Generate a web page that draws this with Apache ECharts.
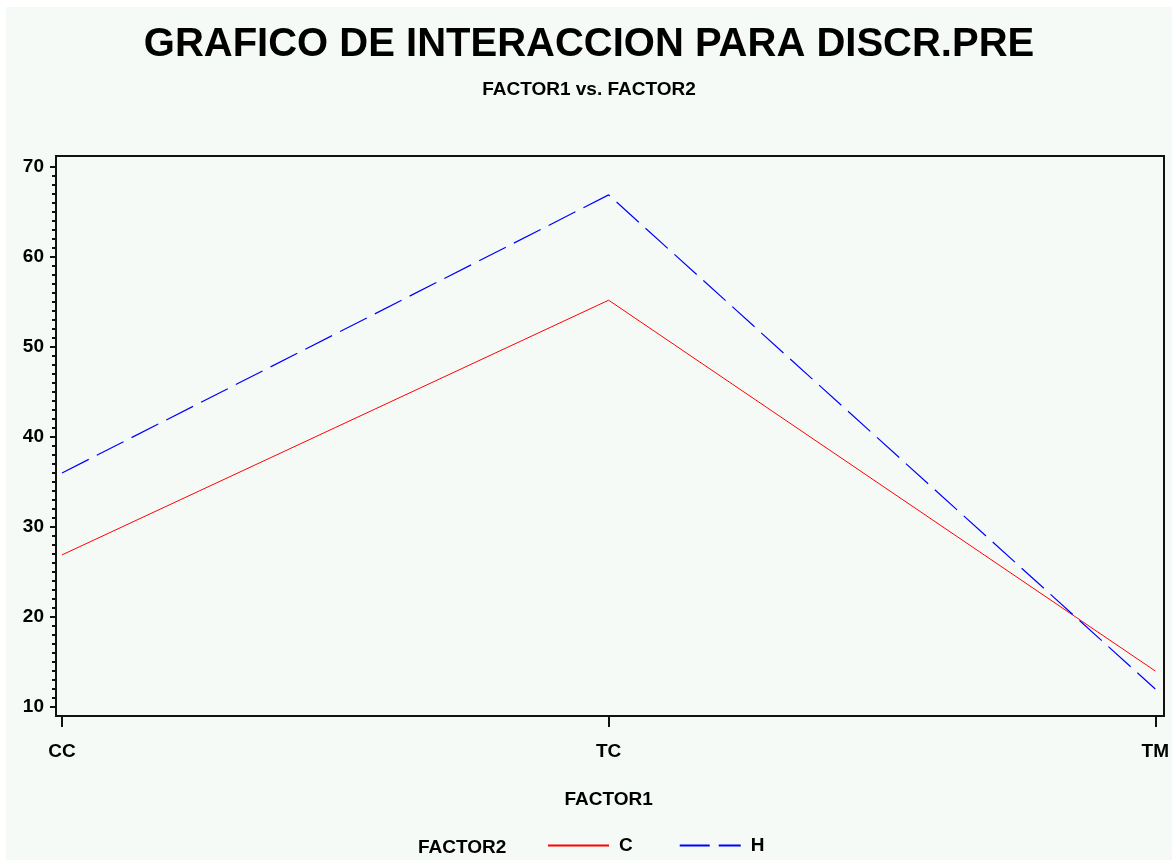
<!DOCTYPE html>
<html>
<head>
<meta charset="utf-8">
<script src="https://cdn.jsdelivr.net/npm/echarts@6/dist/echarts.min.js"></script>
<style>
  html, body { margin: 0; padding: 0; background: #ffffff; }
  #main {
    position: absolute;
    left: 6px;
    top: 7px;
    width: 1166px;
    height: 853px;
    background: #f5faf7;
  }
</style>
</head>
<body>
<div id="main"></div>
<script>
  // factor levels and cell means
  const factor1 = ['CC', 'TC', 'TM'];
  const seriesC = [26.9, 55.2, 14.0];
  const seriesH = [36.0, 66.9, 12.0];
  const yTicks = { min: 10, max: 70, step: 10 };

  const font = 'Liberation Sans, Arial, sans-serif';
  const chart = echarts.init(document.getElementById('main'));

  const option = {
    animation: false,
    title: [
      {
        text: 'GRAFICO DE INTERACCION PARA DISCR.PRE',
        left: 'center',
        top: 13,
        textStyle: { fontFamily: font, fontSize: 40, fontWeight: 'bold', color: '#000' }
      },
      {
        text: 'FACTOR1 vs. FACTOR2',
        left: 'center',
        top: 68,
        textStyle: { fontFamily: font, fontSize: 19, fontWeight: 'bold', color: '#000' }
      },
      {
        text: 'FACTOR2',
        left: 407,
        top: 826,
        textStyle: { fontFamily: font, fontSize: 19, fontWeight: 'bold', color: '#000' }
      }
    ],
    legend: {
      left: 536,
      top: 824,
      itemWidth: 61,
      itemHeight: 16,
      itemGap: 46,
      itemStyle: { opacity: 0 },
      textStyle: { fontFamily: font, fontSize: 19, fontWeight: 'bold', color: '#000', padding: [0, 0, 0, 5] },
      data: ['C', 'H']
    },
    grid: [
      // plotting area (positions of 10..70 and of the categories)
      { left: 56, right: 13, top: 160, bottom: 153 },
      // frame around the plot
      { left: 50, right: 8, top: 149, bottom: 144, show: true, borderColor: '#111', borderWidth: 2, backgroundColor: 'transparent' }
    ],
    xAxis: [
      {
        type: 'category',
        gridIndex: 0,
        data: factor1,
        boundaryGap: false,
        offset: 10,
        name: 'FACTOR1',
        nameLocation: 'middle',
        nameGap: 73,
        nameTextStyle: { fontFamily: font, fontSize: 19, fontWeight: 'bold', color: '#000' },
        axisLine: { show: false },
        axisTick: { show: true, length: 10, lineStyle: { color: '#111', width: 2 } },
        axisLabel: { fontFamily: font, fontSize: 19, fontWeight: 'bold', color: '#000', margin: 25 },
        splitLine: { show: false }
      },
      { type: 'value', gridIndex: 1, show: false }
    ],
    yAxis: [
      {
        type: 'value',
        gridIndex: 0,
        min: yTicks.min,
        max: yTicks.max,
        interval: yTicks.step,
        offset: 6,
        axisLine: { show: false },
        axisTick: { show: true, length: 6, lineStyle: { color: '#111', width: 2 } },
        minorTick: { show: true, splitNumber: 10, length: 4, lineStyle: { color: '#111', width: 2 } },
        axisLabel: { fontFamily: font, fontSize: 19, fontWeight: 'bold', color: '#000', margin: 12 },
        splitLine: { show: false }
      },
      { type: 'value', gridIndex: 1, show: false }
    ],
    series: [
      {
        name: 'C',
        type: 'line',
        xAxisIndex: 0,
        yAxisIndex: 0,
        data: seriesC,
        symbol: 'none',
        lineStyle: { color: '#ff0000', width: 1 },
        itemStyle: { color: '#ff0000' }
      },
      {
        name: 'H',
        type: 'line',
        xAxisIndex: 0,
        yAxisIndex: 0,
        data: seriesH,
        symbol: 'none',
        lineStyle: { color: '#0000ff', width: 1.2, type: [30, 9] },
        itemStyle: { color: '#0000ff' }
      }
    ]
  };

  chart.setOption(option);
</script>
</body>
</html>
